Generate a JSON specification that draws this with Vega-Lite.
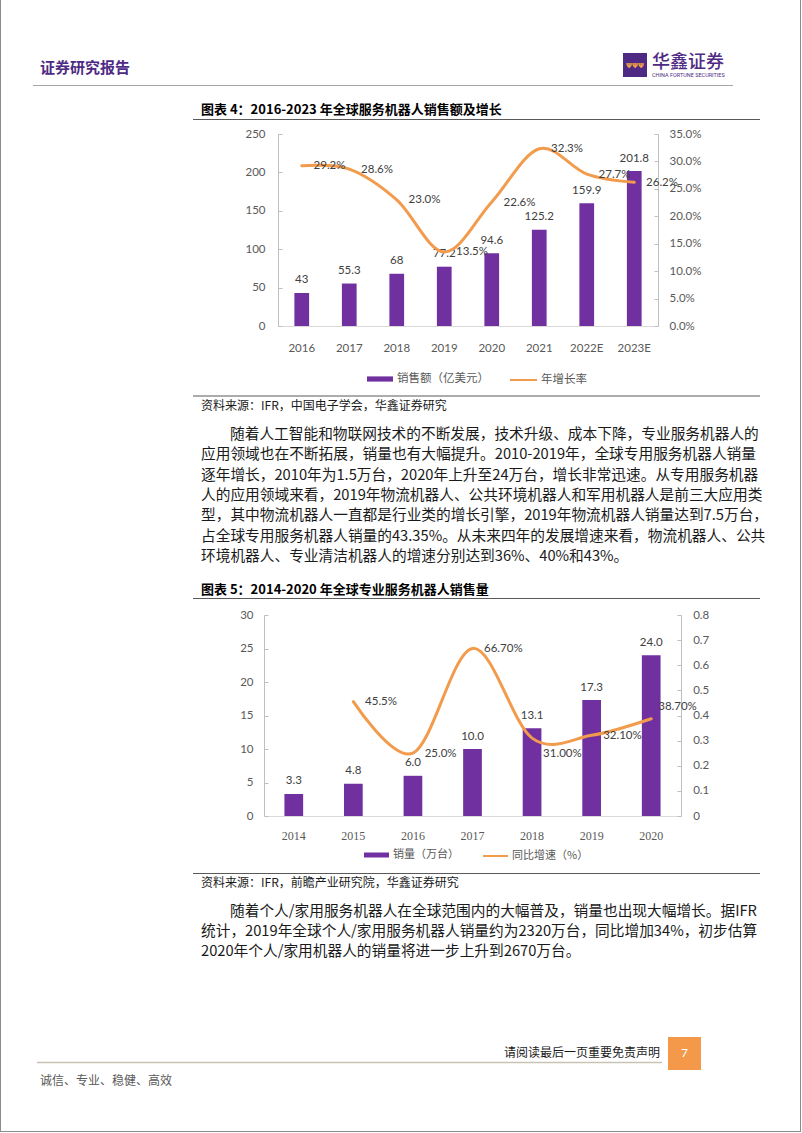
{
  "$schema": "https://vega.github.io/schema/vega-lite/v6.json",
  "width": 802,
  "height": 1133,
  "autosize": {"type": "none"},
  "padding": 0,
  "background": "#ffffff",
  "config": {
    "view": {"stroke": null},
    "font": "Noto Sans CJK SC",
    "axis": {"grid": false}
  },
  "datasets": {
    "sales": [
      {"year": "2016", "sales": 43, "growth": 0.292},
      {"year": "2017", "sales": 55.3, "growth": 0.286},
      {"year": "2018", "sales": 68, "growth": 0.230},
      {"year": "2019", "sales": 77.2, "growth": 0.135},
      {"year": "2020", "sales": 94.6, "growth": 0.226},
      {"year": "2021", "sales": 125.2, "growth": 0.323},
      {"year": "2022E", "sales": 159.9, "growth": 0.277},
      {"year": "2023E", "sales": 201.8, "growth": 0.262}
    ],
    "units": [
      {"year": "2014", "units": 3.3, "yoy": null},
      {"year": "2015", "units": 4.8, "yoy": 0.455},
      {"year": "2016", "units": 6.0, "yoy": 0.250},
      {"year": "2017", "units": 10.0, "yoy": 0.667},
      {"year": "2018", "units": 13.1, "yoy": 0.310},
      {"year": "2019", "units": 17.3, "yoy": 0.321},
      {"year": "2020", "units": 24.0, "yoy": 0.387}
    ],
    "para1": [
      {"line": 1, "text": "随着人工智能和物联网技术的不断发展，技术升级、成本下降，专业服务机器人的"},
      {"line": 2, "text": "应用领域也在不断拓展，销量也有大幅提升。2010-2019年，全球专用服务机器人销量"},
      {"line": 3, "text": "逐年增长，2010年为1.5万台，2020年上升至24万台，增长非常迅速。从专用服务机器"},
      {"line": 4, "text": "人的应用领域来看，2019年物流机器人、公共环境机器人和军用机器人是前三大应用类"},
      {"line": 5, "text": "型，其中物流机器人一直都是行业类的增长引擎，2019年物流机器人销量达到7.5万台，"},
      {"line": 6, "text": "占全球专用服务机器人销量的43.35%。从未来四年的发展增速来看，物流机器人、公共"},
      {"line": 7, "text": "环境机器人、专业清洁机器人的增速分别达到36%、40%和43%。"}
    ],
    "para2": [
      {"line": 1, "text": "随着个人/家用服务机器人在全球范围内的大幅普及，销量也出现大幅增长。据IFR"},
      {"line": 2, "text": "统计，2019年全球个人/家用服务机器人销量约为2320万台，同比增加34%，初步估算"},
      {"line": 3, "text": "2020年个人/家用机器人的销量将进一步上升到2670万台。"}
    ]
  },
  "layer": [
    {
      "data": {"name": "sales"},
      "layer": [
        {
          "layer": [
            {
              "mark": {"type": "bar", "width": {"band": 0.31}},
              "encoding": {
                "x": {
                  "field": "year", "type": "ordinal",
                  "scale": {"type": "band", "range": [278, 658], "paddingInner": 0, "paddingOuter": 0},
                  "axis": {"orient": "bottom", "offset": -807, "title": null, "labelAngle": 0, "domainColor": "#D9D9D9", "ticks": false, "tickSize": 0, "labelPadding": 16, "labelFont": "Lato", "labelFontSize": 11.5, "labelColor": "#595959"}
                },
                "y": {
                  "field": "sales", "type": "quantitative",
                  "scale": {"domain": [0, 250], "range": [326, 134], "nice": false},
                  "axis": {"orient": "left", "offset": -278, "title": null, "values": [0, 50, 100, 150, 200, 250], "grid": false, "domainColor": "#BFBFBF", "tickColor": "#BFBFBF", "tickSize": -4, "labelPadding": 17, "labelFont": "Lato", "labelFontSize": 11.5, "labelColor": "#595959"}
                },
                "fill": {
                  "datum": "销售额（亿美元）", "type": "nominal",
                  "scale": {"range": ["#7030A0"]},
                  "legend": {"orient": "none", "legendX": 367, "legendY": 366, "title": null, "padding": 0, "symbolType": "M-1,-0.2H1V0.2H-1Z", "symbolSize": 676, "symbolStrokeWidth": 0, "labelFont": "Noto Sans CJK SC", "labelFontSize": 11.5, "labelColor": "#595959", "labelOffset": 4}
                }
              }
            },
            {
              "mark": {"type": "text", "dy": -12.5, "baseline": "middle", "font": "Lato", "fontSize": 11.5, "color": "#404040"},
              "encoding": {
                "x": {"field": "year", "type": "ordinal"},
                "y": {"field": "sales", "type": "quantitative"},
                "text": {"field": "sales", "type": "quantitative"}
              }
            }
          ]
        },
        {
          "layer": [
            {
              "mark": {"type": "line", "interpolate": "cardinal", "strokeWidth": 3, "strokeCap": "round"},
              "encoding": {
                "x": {"field": "year", "type": "ordinal"},
                "y": {
                  "field": "growth", "type": "quantitative",
                  "scale": {"domain": [0, 0.35], "range": [326, 134], "nice": false},
                  "axis": {"orient": "right", "offset": -144, "title": null, "values": [0, 0.05, 0.1, 0.15, 0.2, 0.25, 0.3, 0.35], "format": ".1%", "grid": false, "domainColor": "#BFBFBF", "tickColor": "#BFBFBF", "tickSize": -4, "labelPadding": 15, "labelFont": "Lato", "labelFontSize": 11.5, "labelColor": "#595959"}
                },
                "stroke": {
                  "datum": "年增长率", "type": "nominal",
                  "scale": {"range": ["#F29B4D"]},
                  "legend": {"orient": "none", "legendX": 509, "legendY": 365.5, "title": null, "padding": 0, "symbolType": "stroke", "symbolSize": 729, "symbolStrokeWidth": 2, "labelFont": "Noto Sans CJK SC", "labelFontSize": 11.5, "labelColor": "#595959", "labelOffset": 3}
                }
              }
            },
            {
              "mark": {"type": "text", "align": "left", "dx": 11.8, "dy": 0.5, "baseline": "middle", "font": "Lato", "fontSize": 11.5, "color": "#404040"},
              "encoding": {
                "x": {"field": "year", "type": "ordinal"},
                "y": {"field": "growth", "type": "quantitative"},
                "text": {"field": "growth", "type": "quantitative", "format": ".1%"}
              }
            }
          ]
        }
      ],
      "resolve": {"scale": {"y": "independent"}}
    },
    {
      "data": {"name": "units"},
      "layer": [
        {
          "layer": [
            {
              "mark": {"type": "bar", "width": {"band": 0.314}},
              "encoding": {
                "x": {
                  "field": "year", "type": "ordinal",
                  "scale": {"type": "band", "range": [264, 681], "paddingInner": 0, "paddingOuter": 0},
                  "axis": {"orient": "bottom", "offset": -317, "title": null, "labelAngle": 0, "domainColor": "#D9D9D9", "ticks": false, "tickSize": 0, "labelPadding": 14.5, "labelFont": "Liberation Serif", "labelFontSize": 12, "labelColor": "#595959"}
                },
                "y": {
                  "field": "units", "type": "quantitative",
                  "scale": {"domain": [0, 30], "range": [816, 615], "nice": false},
                  "axis": {"orient": "left", "offset": -264, "title": null, "values": [0, 5, 10, 15, 20, 25, 30], "grid": false, "domainColor": "#BFBFBF", "tickColor": "#BFBFBF", "tickSize": -4, "labelPadding": 15, "labelFont": "Lato", "labelFontSize": 11.5, "labelColor": "#595959"}
                },
                "fill": {
                  "datum": "销量（万台）", "type": "nominal",
                  "scale": {"range": ["#7030A0"]},
                  "legend": {"orient": "none", "legendX": 364, "legendY": 842.5, "title": null, "padding": 0, "symbolType": "M-1,-0.2H1V0.2H-1Z", "symbolSize": 625, "symbolStrokeWidth": 0, "labelFont": "Noto Sans CJK SC", "labelFontSize": 11, "labelColor": "#595959", "labelOffset": 4}
                }
              }
            },
            {
              "mark": {"type": "text", "dy": -12.5, "baseline": "middle", "font": "Lato", "fontSize": 11.5, "color": "#404040"},
              "encoding": {
                "x": {"field": "year", "type": "ordinal"},
                "y": {"field": "units", "type": "quantitative"},
                "text": {"field": "units", "type": "quantitative", "format": ".1f"}
              }
            }
          ]
        },
        {
          "transform": [{"filter": "datum.yoy != null"}],
          "layer": [
            {
              "mark": {"type": "line", "interpolate": "cardinal", "strokeWidth": 3, "strokeCap": "round"},
              "encoding": {
                "x": {"field": "year", "type": "ordinal"},
                "y": {
                  "field": "yoy", "type": "quantitative",
                  "scale": {"domain": [0, 0.8], "range": [816, 615], "nice": false},
                  "axis": {"orient": "right", "offset": -121, "title": null, "values": [0, 0.1, 0.2, 0.3, 0.4, 0.5, 0.6, 0.7, 0.8], "format": "~g", "grid": false, "domainColor": "#BFBFBF", "tickColor": "#BFBFBF", "tickSize": -4, "labelPadding": 15.7, "labelFont": "Lato", "labelFontSize": 11.5, "labelColor": "#595959"}
                },
                "stroke": {
                  "datum": "同比增速（%）", "type": "nominal",
                  "scale": {"range": ["#F29B4D"]},
                  "legend": {"orient": "none", "legendX": 482, "legendY": 842.5, "title": null, "padding": 0, "symbolType": "stroke", "symbolSize": 625, "symbolStrokeWidth": 2, "labelFont": "Noto Sans CJK SC", "labelFontSize": 11, "labelColor": "#595959", "labelOffset": 3}
                }
              }
            },
            {
              "transform": [{"filter": "datum.year == '2015' || datum.year == '2016'"}],
              "mark": {"type": "text", "align": "left", "dx": 11.7, "dy": 0.7, "baseline": "middle", "font": "Lato", "fontSize": 11.5, "color": "#404040"},
              "encoding": {
                "x": {"field": "year", "type": "ordinal"},
                "y": {"field": "yoy", "type": "quantitative"},
                "text": {"field": "yoy", "type": "quantitative", "format": ".1%"}
              }
            },
            {
              "transform": [{"filter": "datum.year == '2017' || datum.year == '2019'"}],
              "mark": {"type": "text", "align": "left", "dx": 11.5, "dy": 1, "baseline": "middle", "font": "Lato", "fontSize": 11.5, "color": "#404040"},
              "encoding": {
                "x": {"field": "year", "type": "ordinal"},
                "y": {"field": "yoy", "type": "quantitative"},
                "text": {"field": "yoy", "type": "quantitative", "format": ".2%"}
              }
            },
            {
              "transform": [{"filter": "datum.year == '2018'"}],
              "mark": {"type": "text", "align": "left", "dx": 11, "dy": 16, "baseline": "middle", "font": "Lato", "fontSize": 11.5, "color": "#404040"},
              "encoding": {
                "x": {"field": "year", "type": "ordinal"},
                "y": {"field": "yoy", "type": "quantitative"},
                "text": {"field": "yoy", "type": "quantitative", "format": ".2%"}
              }
            },
            {
              "transform": [{"filter": "datum.year == '2020'"}],
              "mark": {"type": "text", "align": "left", "dx": 7, "dy": -11.5, "baseline": "middle", "font": "Lato", "fontSize": 11.5, "color": "#404040"},
              "encoding": {
                "x": {"field": "year", "type": "ordinal"},
                "y": {"field": "yoy", "type": "quantitative"},
                "text": {"field": "yoy", "type": "quantitative", "format": ".2%"}
              }
            }
          ]
        }
      ],
      "resolve": {"scale": {"y": "independent"}}
    },
    {
      "data": {"name": "para1"},
      "encoding": {
        "y": {"field": "line", "type": "ordinal", "scale": {"type": "point", "domain": [1, 2, 3, 4, 5, 6, 7], "range": [435, 556.8], "padding": 0}, "axis": null},
        "text": {"field": "text", "type": "nominal"}
      },
      "layer": [
        {
          "transform": [{"filter": "datum.line == 1"}],
          "mark": {"type": "text", "align": "left", "baseline": "middle", "font": "Noto Sans CJK SC", "fontSize": 14.7, "color": "#1A1A1A"},
          "encoding": {"x": {"value": 230}}
        },
        {
          "transform": [{"filter": "datum.line > 1"}],
          "mark": {"type": "text", "align": "left", "baseline": "middle", "font": "Noto Sans CJK SC", "fontSize": 14.7, "color": "#1A1A1A"},
          "encoding": {"x": {"value": 201}}
        }
      ]
    },
    {
      "data": {"name": "para2"},
      "encoding": {
        "y": {"field": "line", "type": "ordinal", "scale": {"type": "point", "domain": [1, 2, 3], "range": [911.7, 951.5], "padding": 0}, "axis": null},
        "text": {"field": "text", "type": "nominal"}
      },
      "layer": [
        {
          "transform": [{"filter": "datum.line == 1"}],
          "mark": {"type": "text", "align": "left", "baseline": "middle", "font": "Noto Sans CJK SC", "fontSize": 14.7, "color": "#1A1A1A"},
          "encoding": {"x": {"value": 230}}
        },
        {
          "transform": [{"filter": "datum.line > 1"}],
          "mark": {"type": "text", "align": "left", "baseline": "middle", "font": "Noto Sans CJK SC", "fontSize": 14.7, "color": "#1A1A1A"},
          "encoding": {"x": {"value": 201}}
        }
      ]
    },
    {
      "data": {"values": [{"t": "证券研究报告"}]},
      "mark": {"type": "text", "align": "left", "baseline": "middle", "fontSize": 15, "fontWeight": "bold", "color": "#4E2A84"},
      "encoding": {"x": {"value": 40}, "y": {"value": 68}, "text": {"field": "t"}}
    },
    {
      "data": {"values": [{}]},
      "mark": {"type": "rect", "color": "#4E2A84"},
      "encoding": {"x": {"value": 623}, "x2": {"value": 647}, "y": {"value": 53}, "y2": {"value": 77}}
    },
    {
      "data": {"values": [{"t": "ΨΨΨ"}]},
      "mark": {"type": "text", "align": "center", "baseline": "middle", "fontSize": 7, "fontWeight": "bold", "font": "DejaVu Sans", "color": "#F5A540"},
      "encoding": {"x": {"value": 635}, "y": {"value": 66}, "text": {"field": "t"}}
    },
    {
      "data": {"values": [{"t": "华鑫证券"}]},
      "mark": {"type": "text", "align": "left", "baseline": "middle", "fontSize": 18, "fontWeight": 500, "color": "#4E2A84"},
      "encoding": {"x": {"value": 652}, "y": {"value": 63}, "text": {"field": "t"}}
    },
    {
      "data": {"values": [{"t": "CHINA FORTUNE SECURITIES"}]},
      "mark": {"type": "text", "align": "left", "baseline": "middle", "fontSize": 5.5, "font": "Roboto", "color": "#4E2A84"},
      "encoding": {"x": {"value": 652}, "y": {"value": 74.5}, "text": {"field": "t"}}
    },
    {
      "data": {"values": [{}]},
      "mark": {"type": "rule", "color": "#A6A6A6", "strokeWidth": 1},
      "encoding": {"x": {"value": 33}, "x2": {"value": 733}, "y": {"value": 85.5}}
    },
    {
      "data": {"values": [{"t": "图表 4：2016-2023 年全球服务机器人销售额及增长"}]},
      "mark": {"type": "text", "align": "left", "baseline": "middle", "fontSize": 13, "fontWeight": "bold", "color": "#000000"},
      "encoding": {"x": {"value": 201}, "y": {"value": 110}, "text": {"field": "t"}}
    },
    {
      "data": {"values": [{}]},
      "mark": {"type": "rule", "color": "#595959", "strokeWidth": 1},
      "encoding": {"x": {"value": 193}, "x2": {"value": 760}, "y": {"value": 119.5}}
    },
    {
      "data": {"values": [{}]},
      "mark": {"type": "rule", "color": "#595959", "strokeWidth": 1},
      "encoding": {"x": {"value": 193}, "x2": {"value": 760}, "y": {"value": 396}}
    },
    {
      "data": {"values": [{"t": "资料来源：IFR，中国电子学会，华鑫证券研究"}]},
      "mark": {"type": "text", "align": "left", "baseline": "middle", "fontSize": 12, "color": "#1A1A1A"},
      "encoding": {"x": {"value": 201}, "y": {"value": 405.5}, "text": {"field": "t"}}
    },
    {
      "data": {"values": [{"t": "图表 5：2014-2020 年全球专业服务机器人销售量"}]},
      "mark": {"type": "text", "align": "left", "baseline": "middle", "fontSize": 13, "fontWeight": "bold", "color": "#000000"},
      "encoding": {"x": {"value": 201}, "y": {"value": 590}, "text": {"field": "t"}}
    },
    {
      "data": {"values": [{}]},
      "mark": {"type": "rule", "color": "#595959", "strokeWidth": 1},
      "encoding": {"x": {"value": 193}, "x2": {"value": 760}, "y": {"value": 598.5}}
    },
    {
      "data": {"values": [{}]},
      "mark": {"type": "rule", "color": "#595959", "strokeWidth": 1},
      "encoding": {"x": {"value": 193}, "x2": {"value": 760}, "y": {"value": 873.5}}
    },
    {
      "data": {"values": [{"t": "资料来源：IFR，前瞻产业研究院，华鑫证券研究"}]},
      "mark": {"type": "text", "align": "left", "baseline": "middle", "fontSize": 12, "color": "#1A1A1A"},
      "encoding": {"x": {"value": 201}, "y": {"value": 883}, "text": {"field": "t"}}
    },
    {
      "data": {"values": [{"t": "请阅读最后一页重要免责声明"}]},
      "mark": {"type": "text", "align": "right", "baseline": "middle", "fontSize": 12, "color": "#1A1A1A"},
      "encoding": {"x": {"value": 660}, "y": {"value": 1053}, "text": {"field": "t"}}
    },
    {
      "data": {"values": [{}]},
      "mark": {"type": "rule", "color": "#C8C3B3", "strokeWidth": 1.5},
      "encoding": {"x": {"value": 37}, "x2": {"value": 662}, "y": {"value": 1062.5}}
    },
    {
      "data": {"values": [{}]},
      "mark": {"type": "rect", "color": "#F4994A"},
      "encoding": {"x": {"value": 668}, "x2": {"value": 701}, "y": {"value": 1037}, "y2": {"value": 1070}}
    },
    {
      "data": {"values": [{"t": "7"}]},
      "mark": {"type": "text", "align": "center", "baseline": "middle", "fontSize": 12, "font": "Lato", "color": "#ffffff"},
      "encoding": {"x": {"value": 684.5}, "y": {"value": 1053}, "text": {"field": "t"}}
    },
    {
      "data": {"values": [{"t": "诚信、专业、稳健、高效"}]},
      "mark": {"type": "text", "align": "left", "baseline": "middle", "fontSize": 12, "color": "#595959"},
      "encoding": {"x": {"value": 40}, "y": {"value": 1081}, "text": {"field": "t"}}
    },
    {
      "data": {"values": [{}]},
      "mark": {"type": "rule", "color": "#8C8C8C", "strokeWidth": 1},
      "encoding": {"x": {"value": 0.5}, "y": {"value": 0}, "y2": {"value": 1132}}
    },
    {
      "data": {"values": [{}]},
      "mark": {"type": "rule", "color": "#8C8C8C", "strokeWidth": 1},
      "encoding": {"x": {"value": 800.5}, "y": {"value": 0}, "y2": {"value": 1132}}
    },
    {
      "data": {"values": [{}]},
      "mark": {"type": "rule", "color": "#8C8C8C", "strokeWidth": 1},
      "encoding": {"x": {"value": 0}, "x2": {"value": 801}, "y": {"value": 1131.5}}
    }
  ],
  "resolve": {"scale": {"x": "independent", "y": "independent", "fill": "independent", "stroke": "independent"}}
}
